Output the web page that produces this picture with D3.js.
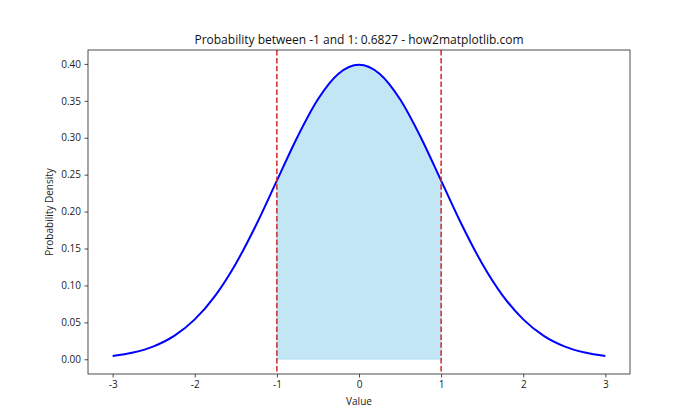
<!DOCTYPE html>
<html><head><meta charset="utf-8">
<script src="https://cdn.jsdelivr.net/npm/d3@7"></script>
<style>body{margin:0;background:#fff;} text{font-family:"Open Sans","Noto Sans",sans-serif;}</style>
</head><body>
<svg id="c" width="700" height="420"></svg>
<script>
const xs = [-3,-2.75,-2.5,-2.25,-2,-1.75,-1.5,-1.25,-1,-0.75,-0.5,-0.25,0,0.25,0.5,0.75,1,1.25,1.5,1.75,2,2.25,2.5,2.75,3];
const ys = [0.0044,0.0091,0.0175,0.0317,0.0540,0.0863,0.1295,0.1826,0.2420,0.3011,0.3521,0.3867,0.3989,0.3867,0.3521,0.3011,0.2420,0.1826,0.1295,0.0863,0.0540,0.0317,0.0175,0.0091,0.0044];
const bounds = [-1, 1];
const xTicks = [-3,-2,-1,0,1,2,3];
const yTicks = [0,0.05,0.10,0.15,0.20,0.25,0.30,0.35,0.40];
const title = "Probability between -1 and 1: 0.6827 - how2matplotlib.com";

const pts = xs.map((x,i)=>({x, y: ys[i]}));
const svg = d3.select("#c");
const L=88, R=630, T=50, B=374;
const x = d3.scaleLinear().domain([-3.3,3.3]).range([L,R]);
const y = d3.scaleLinear().domain([-0.01995,0.41885]).range([B,T]);

const shaded = pts.filter(d=>d.x>=bounds[0] && d.x<=bounds[1]);
svg.append("path").datum(shaded)
  .attr("d", d3.area().x(d=>x(d.x)).y0(y(0)).y1(d=>y(d.y)).curve(d3.curveMonotoneX))
  .attr("fill","#87ceeb").attr("fill-opacity",0.5)
  .attr("stroke","#87ceeb").attr("stroke-opacity",0.5).attr("stroke-width",0.8);

svg.append("path").datum(pts)
  .attr("d", d3.line().x(d=>x(d.x)).y(d=>y(d.y)).curve(d3.curveMonotoneX))
  .attr("fill","none").attr("stroke","#0000ff").attr("stroke-width",2);

bounds.forEach(b=>{
  svg.append("line").attr("x1",x(b)).attr("x2",x(b)).attr("y1",T).attr("y2",B)
    .attr("stroke","#d62728").attr("stroke-width",1.5).attr("stroke-dasharray","5.5,2.4");
});

const xa = svg.append("g").attr("transform",`translate(0,${B})`)
  .call(d3.axisBottom(x).tickValues(xTicks).tickFormat(d=>String(d)).tickSize(3.5).tickPadding(3.5));
const ya = svg.append("g").attr("transform",`translate(${L},0)`)
  .call(d3.axisLeft(y).tickValues(yTicks).tickFormat(d3.format(".2f")).tickSize(3.5).tickPadding(3.5));
[xa,ya].forEach(a=>{a.select(".domain").remove(); a.selectAll("text").attr("font-size",10).attr("fill","#222").style("font-family","'Open Sans',sans-serif"); a.selectAll("line").attr("stroke","#222").attr("stroke-width",0.8);});

svg.append("rect").attr("x",L).attr("y",T).attr("width",R-L).attr("height",B-T)
  .attr("fill","none").attr("stroke","#222").attr("stroke-width",0.8);

svg.append("text").attr("x",(L+R)/2).attr("y",44).attr("text-anchor","middle")
  .attr("font-size",12).attr("fill","#111").text(title);
svg.append("text").attr("x",(L+R)/2).attr("y",405).attr("text-anchor","middle")
  .attr("font-size",10).attr("fill","#222").text("Value");
svg.append("text").attr("transform",`translate(53,${(T+B)/2}) rotate(-90)`).attr("text-anchor","middle")
  .attr("font-size",10).attr("fill","#222").text("Probability Density");
</script>
</body></html>
